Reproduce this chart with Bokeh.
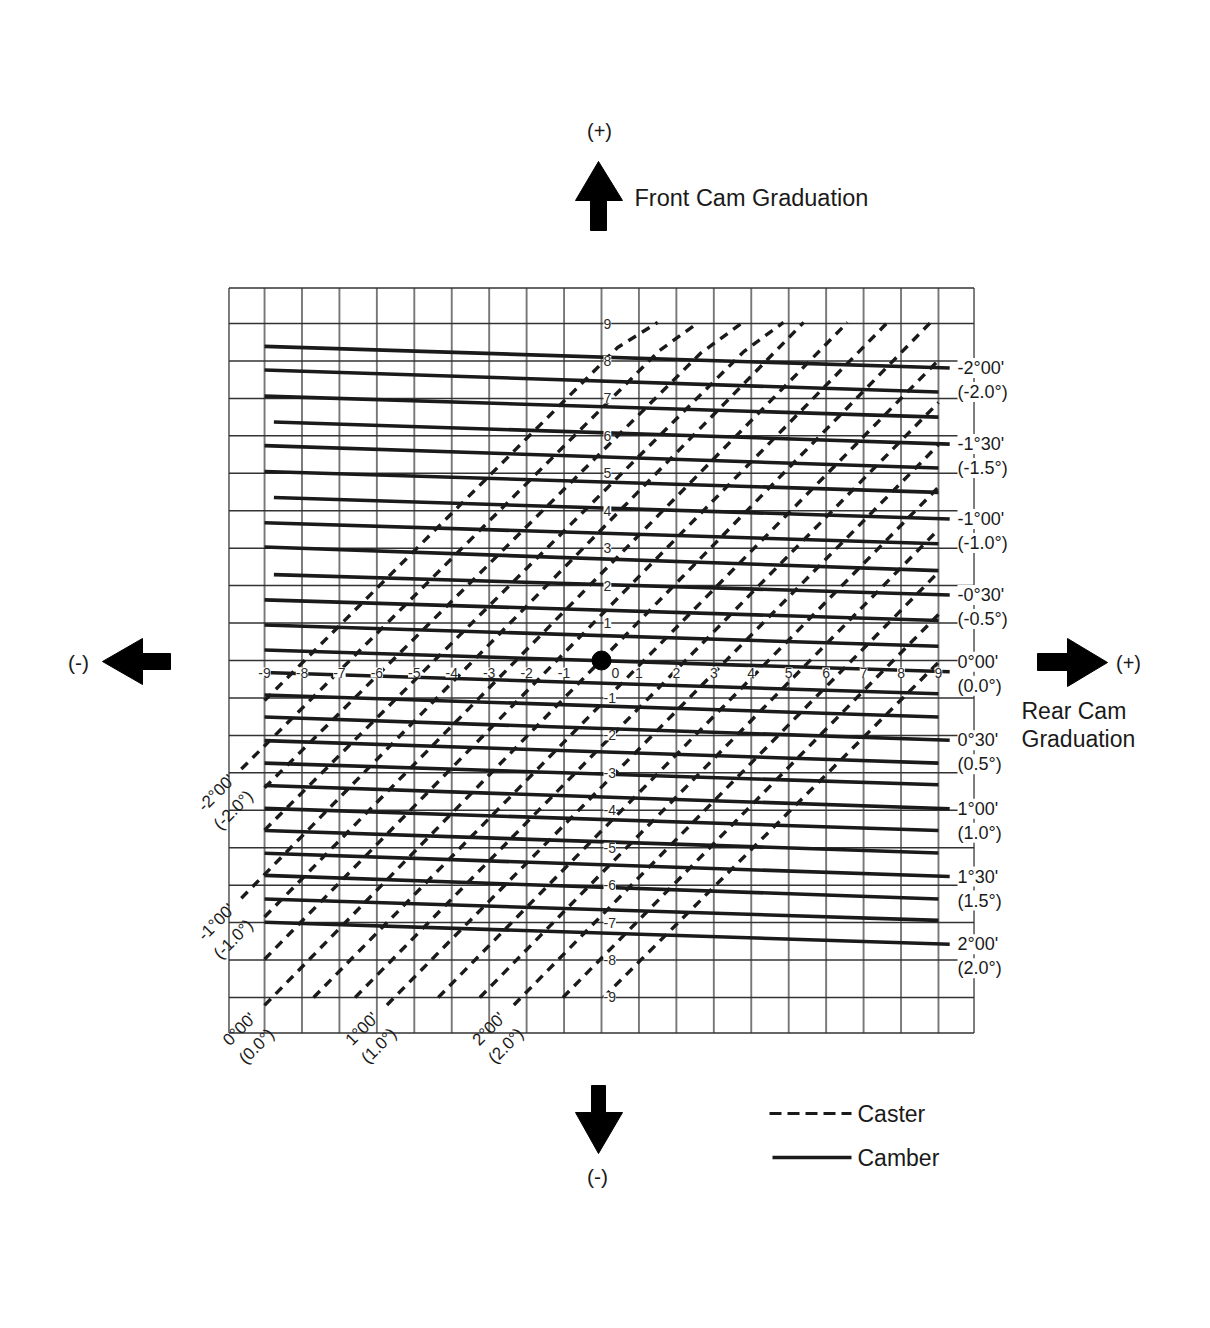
from bokeh.plotting import figure
from bokeh.models import Range1d, Label, LabelSet, ColumnDataSource
from bokeh.core.properties import value
from bokeh.embed import file_html
from bokeh.resources import INLINE

# ---------------- data (cam graduations) ----------------
grid_ticks = [-10, -9, -8, -7, -6, -5, -4, -3, -2, -1, 0, 1, 2, 3, 4, 5, 6, 7, 8, 9, 10]
axis_ticks = [-9, -8, -7, -6, -5, -4, -3, -2, -1, 0, 1, 2, 3, 4, 5, 6, 7, 8, 9]

camber_names = ["-2°00'", "-1°50'", "-1°40'", "-1°30'", "-1°20'", "-1°10'", "-1°00'",
                "-0°50'", "-0°40'", "-0°30'", "-0°20'", "-0°10'", "0°00'", "0°10'",
                "0°20'", "0°30'", "0°40'", "0°50'", "1°00'", "1°10'", "1°20'", "1°30'",
                "1°40'", "1°50'", "2°00'"]
camber_decimal = ["(-2.0°)", "", "", "(-1.5°)", "", "", "(-1.0°)", "", "", "(-0.5°)", "", "",
                  "(0.0°)", "", "", "(0.5°)", "", "", "(1.0°)", "", "", "(1.5°)", "", "", "(2.0°)"]
# front cam graduation where each camber line meets rear graduation -9 and +9
camber_front_at_rear_m9 = [8.39, 7.76, 7.06, 6.38, 5.74, 5.05, 4.36, 3.68, 3.03, 2.30, 1.62, 0.95,
                           0.28, -0.32, -0.92, -1.51, -2.14, -2.74, -3.34, -3.95, -4.54, -5.15,
                           -5.74, -6.37, -6.99]
camber_front_at_rear_p9 = [7.82, 7.17, 6.50, 5.79, 5.14, 4.49, 3.79, 3.12, 2.40, 1.76, 1.07, 0.38,
                           -0.29, -0.89, -1.51, -2.12, -2.74, -3.32, -3.95, -4.54, -5.14, -5.76,
                           -6.37, -6.94, -7.57]

caster_names = ["-2°20'", "-2°00'", "-1°40'", "-1°20'", "-1°00'", "-0°40'", "-0°20'", "0°00'",
                "0°20'", "0°40'", "1°00'", "1°20'", "1°40'", "2°00'", "2°20'", "2°40'"]
caster_decimal = ["", "(-2.0°)", "", "", "(-1.0°)", "", "", "(0.0°)",
                  "", "", "(1.0°)", "", "", "(2.0°)", "", ""]
caster_rear = [[-9.0, 0.43, 1.50], [-9.62, 1.55, 2.59], [-9.0, 2.64, 3.77], [-9.0, 3.80, 4.86],
               [-9.62, 5.40], [-9.0, 6.57], [-9.0, 7.64], [-9.0, 8.79],
               [-7.69, 9.0], [-6.58, 9.0], [-5.73, 9.0], [-4.36, 9.0],
               [-3.25, 9.0], [-2.34, 9.0], [-1.03, 9.0], [0.05, 9.0]]
caster_front = [[-1.07, 8.36, 9.03], [-2.90, 8.28, 9.03], [-3.40, 8.20, 9.03], [-4.53, 8.25, 9.03],
                [-6.35, 9.03], [-6.85, 9.03], [-7.98, 9.03], [-9.21, 9.03],
                [-9.0, 8.02], [-9.0, 6.89], [-9.2, 5.76], [-9.0, 4.63],
                [-9.0, 3.50], [-9.2, 2.36], [-9.0, 1.23], [-9.0, -0.05]]

origin_rear = [0]
origin_front = [0]

# ---------------- layout ----------------
W, H = 1210, 1328
U = 37.44            # pixels per graduation
CX, CY = 601, 660    # page position of graduation (0, 0)
FONT = "Liberation Sans"
INK = "#1a1a1a"


def px2x(px):
    return (px - CX) / U


def py2y(py):
    return (CY - py) / U


p = figure(width=W, height=H,
           x_range=Range1d(px2x(0), px2x(W)),
           y_range=Range1d(py2y(H), py2y(0)),
           output_backend="svg", toolbar_location=None, min_border=0,
           x_axis_location=None, y_axis_location=None,
           background_fill_color="white", border_fill_color="white",
           outline_line_color=None)
p.xgrid.grid_line_color = None
p.ygrid.grid_line_color = None

# grid
lo, hi = -9.95, 9.95
gt = [max(min(t, hi), lo) for t in grid_ticks]
p.segment(x0=gt, y0=[lo] * len(gt), x1=gt, y1=[hi] * len(gt),
          line_color="#777777", line_width=1.9)
p.segment(x0=[lo] * len(gt), y0=gt, x1=[hi] * len(gt), y1=gt,
          line_color="#333333", line_width=1.5)

# caster lines (dashed)
p.multi_line(xs=caster_rear, ys=caster_front, line_color=INK, line_width=3.4,
             line_dash="9 7", line_cap="butt")

# camber lines (solid)
short_start = {"-1°30'", "-1°00'", "-0°30'"}
cxs, cys, lab_pts = [], [], []
for name, dec, yl, yr in zip(camber_names, camber_decimal,
                             camber_front_at_rear_m9, camber_front_at_rear_p9):
    x0 = -8.75 if name in short_start else -9.0
    x1 = 9.3 if dec else 9.0
    f = lambda x: yl + (yr - yl) * (x + 9) / 18.0
    cxs.append([x0, x1])
    cys.append([f(x0), f(x1)])
    if dec:
        lab_pts.append((name, dec, f(x1)))
p.multi_line(xs=cxs, ys=cys, line_color=INK, line_width=3.6, line_cap="butt")

# origin
p.scatter(x=origin_rear, y=origin_front, size=19, color="black")

# tick labels with white boxes
xt_pos = [t + (14 / U if t == 0 else 0) for t in axis_ticks]
src_x = ColumnDataSource(dict(x=xt_pos, y=[py2y(672)] * len(axis_ticks),
                              t=[str(t) for t in axis_ticks]))
p.add_layout(LabelSet(source=src_x, x="x", y="y", text="t", text_font=value(FONT),
                      text_font_size="14px", text_align="center", text_baseline="middle",
                      text_color="#2a2a2a", background_fill_color="white"))
yt = [t for t in axis_ticks if t != 0]
src_y = ColumnDataSource(dict(x=[px2x(603)] * len(yt), y=yt, t=[str(t) for t in yt]))
p.add_layout(LabelSet(source=src_y, x="x", y="y", text="t", text_font=value(FONT),
                      text_font_size="14px", text_align="left", text_baseline="middle",
                      text_color="#2a2a2a", background_fill_color="white"))


def lab(text, x, y, size, align="left", angle=0, color=INK, bg=None):
    p.add_layout(Label(x=x, y=y, text=text, text_font=FONT, text_font_size=f"{size}px",
                       text_align=align, text_baseline="middle", angle=angle,
                       angle_units="deg", text_color=color, background_fill_color=bg))


# camber labels on the right
for name, dec, yend in lab_pts:
    tweak = 10 / U if name == "0°00'" else 0
    lab(name, px2x(957), yend + tweak, 18, bg="white")
    lab(dec, px2x(957), yend + tweak - 24 / U, 18, bg="white")

# caster labels (rotated)
for name, dec, xs_, ys_ in zip(caster_names, caster_decimal, caster_rear, caster_front):
    if not dec:
        continue
    x0, y0 = xs_[0], ys_[0]
    lab(name, x0 - 25 / U, y0 - 24 / U, 17, align="center", angle=45)
    lab(dec, x0 - 8 / U, y0 - 41 / U, 17, align="center", angle=45)


# arrows
def poly(pts):
    return [px2x(a) for a, b in pts], [py2y(b) for a, b in pts]


arrows = [
    [(590, 230), (590, 200), (575, 200), (598, 161), (622, 200), (606, 200), (606, 230)],
    [(170, 653), (142, 653), (142, 638), (102, 661), (142, 684), (142, 669), (170, 669)],
    [(1037, 653), (1067, 653), (1067, 638), (1107, 662), (1067, 686), (1067, 670), (1037, 670)],
    [(591, 1085), (605, 1085), (605, 1112), (622, 1112), (598, 1153), (575, 1112), (591, 1112)],
]
axs, ays = zip(*[poly(a) for a in arrows])
p.patches(xs=list(axs), ys=list(ays), color="black")

lab("(+)", px2x(599), py2y(130), 20, align="center")
lab("Front Cam Graduation", px2x(634), py2y(197), 23.5)
lab("(-)", px2x(78), py2y(662), 21, align="center")
lab("(+)", px2x(1128), py2y(662), 20, align="center")
lab("Rear Cam", px2x(1021), py2y(710), 23)
lab("Graduation", px2x(1021), py2y(738), 23)
lab("(-)", px2x(597), py2y(1176), 21, align="center")

# legend
p.line(x=[px2x(769), px2x(851)], y=[py2y(1113)] * 2, line_color=INK, line_width=3,
       line_dash="12 6")
p.line(x=[px2x(772), px2x(851)], y=[py2y(1157)] * 2, line_color=INK, line_width=3.5)
lab("Caster", px2x(857), py2y(1113), 23)
lab("Camber", px2x(857), py2y(1157), 23)

open("out.html", "w").write(file_html(p, INLINE))
